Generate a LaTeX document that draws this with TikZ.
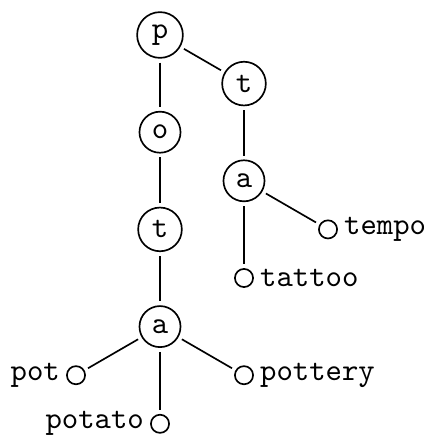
\documentclass[tikz,border=0pt]{standalone}
\begin{document}
\begin{tikzpicture}[x=0.3302pt,y=-0.3302pt,font=\ttfamily\fontsize{10.3}{12}\selectfont,line width=0.55pt,
  letter/.style={circle,draw,inner sep=2.3pt},
  leaf/.style={circle,draw,minimum size=6pt,inner sep=0pt},
  link/.style={shorten <=1.3pt,shorten >=1.3pt},
  every label/.style={inner sep=1.8pt}]
\useasboundingbox (0,0) rectangle (424,435);
% inner trie nodes
\node[letter] (p)  at (160,35)    {p};
\node[letter] (t1) at (244,83.6)  {t};
\node[letter] (o)  at (160,132.2) {o};
\node[letter] (a1) at (244,180.8) {a};
\node[letter] (t2) at (160,229.4) {t};
\node[letter] (a2) at (160,326.6) {a};
% word ends
\node[leaf,label=right:tempo]   (tempo)   at (328,229.4) {};
\node[leaf,label=right:tattoo]  (tattoo)  at (244,278)   {};
\node[leaf,label=left:pot]      (pot)     at (76,375.2)  {};
\node[leaf,label=right:pottery] (pottery) at (244,375.2) {};
\node[leaf,label=left:potato]   (potato)  at (160,423.8) {};
% edges
\draw[link] (p) -- (t1);
\draw[link] (p) -- (o);
\draw[link] (t1) -- (a1);
\draw[link] (o) -- (t2);
\draw[link] (a1) -- (tempo);
\draw[link] (a1) -- (tattoo);
\draw[link] (t2) -- (a2);
\draw[link] (a2) -- (pot);
\draw[link] (a2) -- (potato);
\draw[link] (a2) -- (pottery);
\end{tikzpicture}
\end{document}
